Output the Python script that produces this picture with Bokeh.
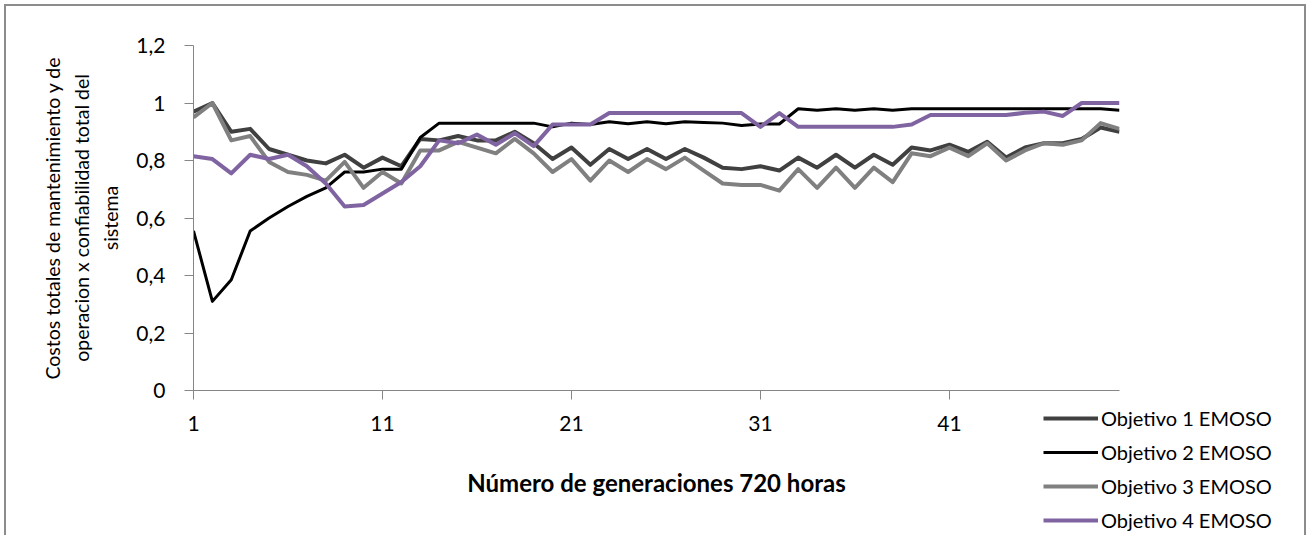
from bokeh.plotting import figure
from bokeh.models import FixedTicker, CustomJSTickFormatter, Legend, LegendItem, ColumnDataSource
from bokeh.embed import file_html
from bokeh.resources import INLINE

generations = list(range(1, 51))

objetivo1 = [0.97, 1.0, 0.90, 0.91, 0.84, 0.82, 0.80, 0.79, 0.82, 0.775,
             0.81, 0.78, 0.875, 0.87, 0.885, 0.87, 0.87, 0.90, 0.86, 0.805,
             0.845, 0.785, 0.84, 0.805, 0.84, 0.805, 0.84, 0.81, 0.775, 0.77,
             0.78, 0.765, 0.81, 0.775, 0.82, 0.775, 0.82, 0.785, 0.845, 0.835,
             0.855, 0.83, 0.865, 0.81, 0.845, 0.86, 0.86, 0.875, 0.915, 0.90]

objetivo2 = [0.555, 0.31, 0.385, 0.555, 0.60, 0.64, 0.675, 0.705, 0.76, 0.76,
             0.77, 0.77, 0.88, 0.93, 0.93, 0.93, 0.93, 0.93, 0.93, 0.917,
             0.93, 0.925, 0.935, 0.928, 0.935, 0.928, 0.935, 0.932, 0.93, 0.922,
             0.927, 0.927, 0.98, 0.975, 0.98, 0.975, 0.98, 0.975, 0.98, 0.98,
             0.98, 0.98, 0.98, 0.98, 0.98, 0.98, 0.98, 0.98, 0.98, 0.975]

objetivo3 = [0.95, 1.0, 0.87, 0.885, 0.795, 0.76, 0.75, 0.73, 0.795, 0.705,
             0.76, 0.72, 0.835, 0.835, 0.865, 0.845, 0.825, 0.875, 0.825, 0.76,
             0.805, 0.73, 0.80, 0.76, 0.805, 0.77, 0.81, 0.765, 0.72, 0.715,
             0.715, 0.695, 0.77, 0.705, 0.775, 0.705, 0.775, 0.725, 0.825, 0.815,
             0.845, 0.815, 0.86, 0.80, 0.835, 0.86, 0.855, 0.87, 0.93, 0.91]

objetivo4 = [0.815, 0.805, 0.755, 0.82, 0.805, 0.82, 0.78, 0.72, 0.64, 0.645,
             0.685, 0.725, 0.78, 0.87, 0.86, 0.89, 0.855, 0.895, 0.85, 0.925,
             0.925, 0.925, 0.965, 0.965, 0.965, 0.965, 0.965, 0.965, 0.965, 0.965,
             0.917, 0.965, 0.917, 0.917, 0.917, 0.917, 0.917, 0.917, 0.925, 0.958,
             0.958, 0.958, 0.958, 0.958, 0.966, 0.97, 0.955, 1.0, 1.0, 1.0]

series_names = ["Objetivo 1 EMOSO", "Objetivo 2 EMOSO", "Objetivo 3 EMOSO", "Objetivo 4 EMOSO"]
series_colors = ["#404040", "#000000", "#808080", "#8064A2"]
series_widths = [4, 3, 4, 4]

x_ticks = [1, 11, 21, 31, 41]
y_ticks = [0, 0.2, 0.4, 0.6, 0.8, 1.0, 1.2]
y_tick_labels = ["0", "0,2", "0,4", "0,6", "0,8", "1", "1,2"]

x_title = "Número de generaciones 720 horas"
y_title = "Costos totales de mantenimiento y de\noperacion x confiabilidad total del\nsistema"

FONT = "Lato"
BORDER = "2px solid #8c8c8c"

p = figure(width=1302, height=531, output_backend="svg", toolbar_location=None,
           x_range=(1, 50), y_range=(0, 1.2),
           min_border_left=187, min_border_right=189, min_border_top=39, min_border_bottom=147)
p.styles = {"margin-left": "4px", "margin-top": "4px",
            "border-left": BORDER, "border-top": BORDER, "border-right": BORDER,
            "box-sizing": "border-box"}

p.xgrid.visible = False
p.ygrid.visible = False
p.outline_line_color = None

src = ColumnDataSource(dict(x=generations, s1=objetivo1, s2=objetivo2, s3=objetivo3, s4=objetivo4))
keys = ["s1", "s2", "s3", "s4"]
for key, color, w in zip(keys, series_colors, series_widths):
    p.line("x", key, source=src, line_color=color, line_width=w, line_join="round")

# axes
for ax in (p.xaxis[0], p.yaxis[0]):
    ax.axis_line_color = "#868686"
    ax.major_tick_line_color = "#868686"
    ax.major_tick_out = 9
    ax.major_tick_in = 0
    ax.minor_tick_line_color = None
    ax.major_label_text_font = FONT
    ax.major_label_text_font_size = "21px"
    ax.major_label_text_color = "#000000"
    ax.axis_label_text_font = FONT
    ax.axis_label_text_color = "#000000"

p.xaxis.ticker = FixedTicker(ticks=x_ticks)
p.xaxis.major_label_standoff = 16
p.xaxis.axis_label = x_title
p.xaxis.axis_label_text_font_style = "bold"
p.xaxis.axis_label_text_font_size = "24px"
p.xaxis.axis_label_standoff = 34

p.yaxis.ticker = FixedTicker(ticks=y_ticks)
p.yaxis.formatter = CustomJSTickFormatter(args=dict(tvals=y_ticks, tlabels=y_tick_labels), code="""
    for (let i = 0; i < tvals.length; i++) {
        if (Math.abs(tvals[i] - tick) < 1e-9) return tlabels[i];
    }
    return '';
""")
p.yaxis.major_label_standoff = 19
p.yaxis.axis_label = y_title
p.yaxis.axis_label_text_font_style = "normal"
p.yaxis.axis_label_text_font_size = "19.5px"
p.yaxis.axis_label_text_line_height = 1.27
p.yaxis.axis_label_standoff = 11

# legend: a small overlay figure (the reference legend sits below the plot area)
lf = figure(width=262, height=128, output_backend="svg", toolbar_location=None,
            x_axis_type=None, y_axis_type=None, min_border=0)
lf.outline_line_color = None
lf.background_fill_alpha = 0
lf.border_fill_alpha = 0
lf.xgrid.visible = False
lf.ygrid.visible = False
lf.styles = {"position": "absolute", "left": "1043px", "top": "406px"}
lrs = []
for key, color, w in zip(keys, series_colors, series_widths):
    r = lf.line("x", key, source=src, line_color=color, line_width=w)
    r.visible = False
    lrs.append(r)

legend = Legend(items=[LegendItem(label=n, renderers=[r]) for n, r in zip(series_names, lrs)],
                location="top_left", orientation="vertical",
                padding=0, margin=0, spacing=10,
                glyph_width=55, glyph_height=24, label_height=24, label_standoff=3,
                label_text_font=FONT, label_text_font_size="20px", label_text_color="#000000",
                border_line_color=None, background_fill_alpha=0)
lf.add_layout(legend, "center")

open("out.html", "w").write(file_html([p, lf], INLINE))
